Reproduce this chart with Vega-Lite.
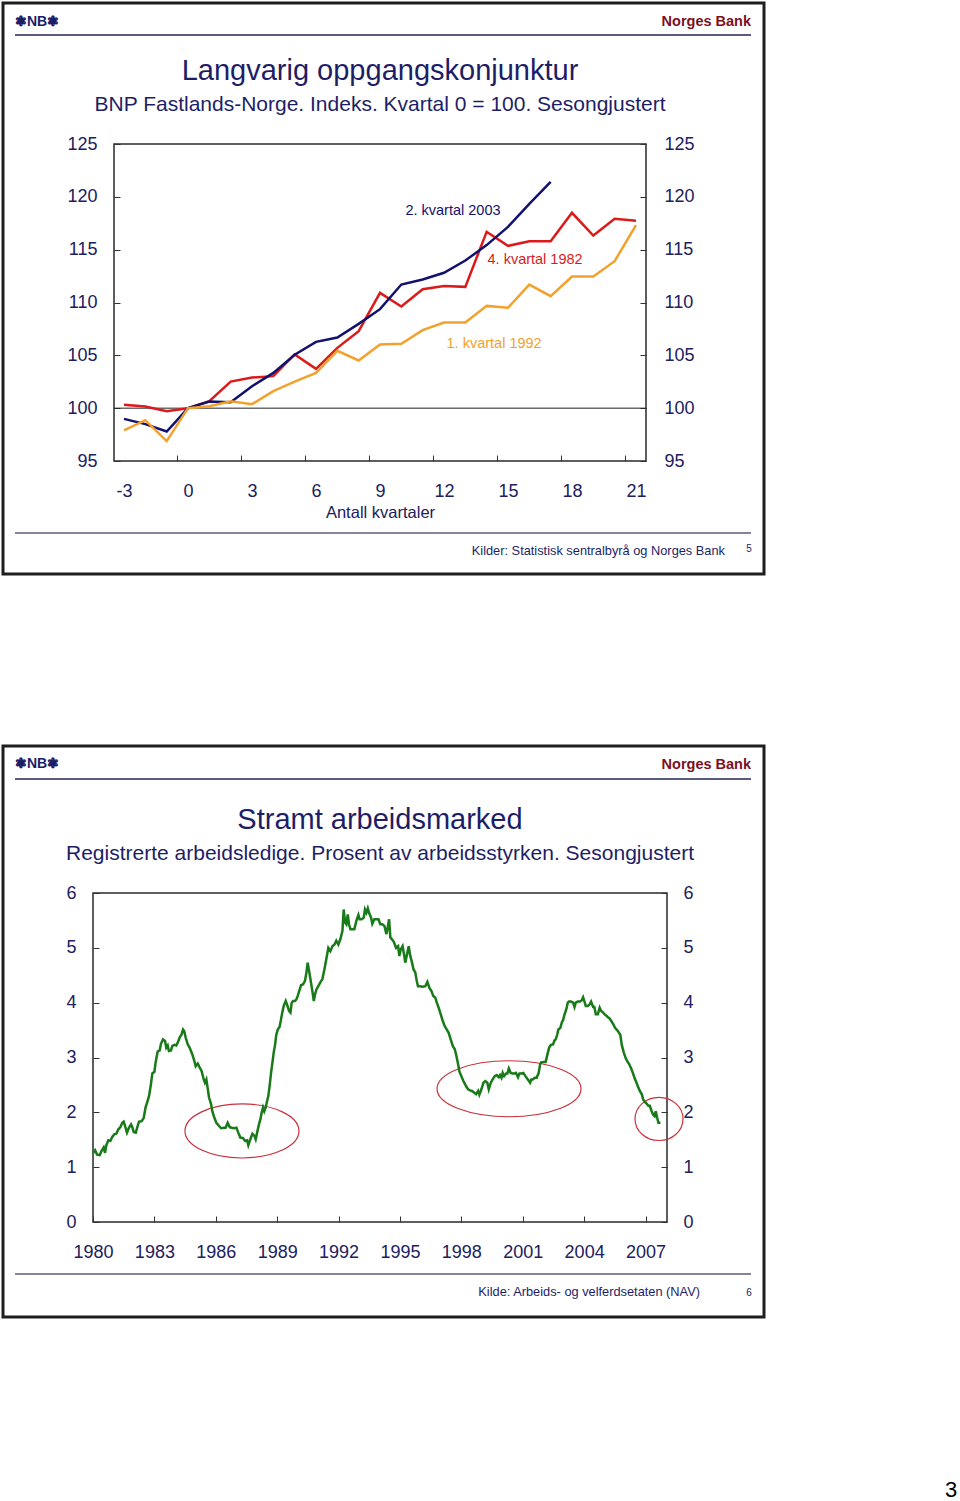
{
  "$schema": "https://vega.github.io/schema/vega-lite/v6.json",
  "background": "white",
  "autosize": {"type": "pad"},
  "padding": {"left": 0, "top": 0, "right": 0, "bottom": 0},
  "config": {
    "font": "Liberation Sans",
    "view": {"stroke": "#2a2a2a", "strokeWidth": 1.5},
    "axis": {"domain": false, "grid": false, "labelFont": "Liberation Sans", "labelFontSize": 18, "labelColor": "#20205e", "tickColor": "#333333", "tickSize": -6, "tickWidth": 1, "labelFlush": false, "labelOverlap": false, "titleFont": "Liberation Sans", "titleColor": "#20205e", "titleFontWeight": "normal"},
    "title": {"font": "Liberation Sans", "subtitleFont": "Liberation Sans", "fontSize": 29, "subtitleFontSize": 21, "fontWeight": "normal", "color": "#1e1e66", "subtitleColor": "#1e1e66", "anchor": "middle", "frame": "group", "subtitlePadding": 7.5}
  },
  "bounds": "flush",
  "center": true,
  "spacing": 432,
  "datasets": {
    "gdp": [
      {"series": "4. kvartal 1982", "q": -3, "v": 100.32}, {"series": "4. kvartal 1982", "q": -2, "v": 100.16}, {"series": "4. kvartal 1982", "q": -1, "v": 99.72}, {"series": "4. kvartal 1982", "q": 0, "v": 100.0}, {"series": "4. kvartal 1982", "q": 1, "v": 100.66}, {"series": "4. kvartal 1982", "q": 2, "v": 102.52}, {"series": "4. kvartal 1982", "q": 3, "v": 102.9}, {"series": "4. kvartal 1982", "q": 4, "v": 103.03}, {"series": "4. kvartal 1982", "q": 5, "v": 105.08}, {"series": "4. kvartal 1982", "q": 6, "v": 103.72}, {"series": "4. kvartal 1982", "q": 7, "v": 105.71}, {"series": "4. kvartal 1982", "q": 8, "v": 107.29}, {"series": "4. kvartal 1982", "q": 9, "v": 110.91}, {"series": "4. kvartal 1982", "q": 10, "v": 109.62}, {"series": "4. kvartal 1982", "q": 11, "v": 111.26}, {"series": "4. kvartal 1982", "q": 12, "v": 111.55}, {"series": "4. kvartal 1982", "q": 13, "v": 111.48}, {"series": "4. kvartal 1982", "q": 14, "v": 116.69}, {"series": "4. kvartal 1982", "q": 15, "v": 115.36}, {"series": "4. kvartal 1982", "q": 16, "v": 115.8}, {"series": "4. kvartal 1982", "q": 17, "v": 115.8}, {"series": "4. kvartal 1982", "q": 18, "v": 118.49}, {"series": "4. kvartal 1982", "q": 19, "v": 116.34}, {"series": "4. kvartal 1982", "q": 20, "v": 117.92}, {"series": "4. kvartal 1982", "q": 21, "v": 117.73},
      {"series": "2. kvartal 2003", "q": -3, "v": 98.99}, {"series": "2. kvartal 2003", "q": -2, "v": 98.49}, {"series": "2. kvartal 2003", "q": -1, "v": 97.79}, {"series": "2. kvartal 2003", "q": 0, "v": 100.0}, {"series": "2. kvartal 2003", "q": 1, "v": 100.63}, {"series": "2. kvartal 2003", "q": 2, "v": 100.57}, {"series": "2. kvartal 2003", "q": 3, "v": 102.08}, {"series": "2. kvartal 2003", "q": 4, "v": 103.34}, {"series": "2. kvartal 2003", "q": 5, "v": 105.05}, {"series": "2. kvartal 2003", "q": 6, "v": 106.28}, {"series": "2. kvartal 2003", "q": 7, "v": 106.69}, {"series": "2. kvartal 2003", "q": 8, "v": 107.98}, {"series": "2. kvartal 2003", "q": 9, "v": 109.37}, {"series": "2. kvartal 2003", "q": 10, "v": 111.7}, {"series": "2. kvartal 2003", "q": 11, "v": 112.18}, {"series": "2. kvartal 2003", "q": 12, "v": 112.81}, {"series": "2. kvartal 2003", "q": 13, "v": 113.97}, {"series": "2. kvartal 2003", "q": 14, "v": 115.43}, {"series": "2. kvartal 2003", "q": 15, "v": 117.16}, {"series": "2. kvartal 2003", "q": 16, "v": 119.34}, {"series": "2. kvartal 2003", "q": 17, "v": 121.42},
      {"series": "1. kvartal 1992", "q": -3, "v": 97.89}, {"series": "1. kvartal 1992", "q": -2, "v": 98.86}, {"series": "1. kvartal 1992", "q": -1, "v": 96.88}, {"series": "1. kvartal 1992", "q": 0, "v": 100.0}, {"series": "1. kvartal 1992", "q": 1, "v": 100.19}, {"series": "1. kvartal 1992", "q": 2, "v": 100.66}, {"series": "1. kvartal 1992", "q": 3, "v": 100.38}, {"series": "1. kvartal 1992", "q": 4, "v": 101.61}, {"series": "1. kvartal 1992", "q": 5, "v": 102.52}, {"series": "1. kvartal 1992", "q": 6, "v": 103.34}, {"series": "1. kvartal 1992", "q": 7, "v": 105.43}, {"series": "1. kvartal 1992", "q": 8, "v": 104.51}, {"series": "1. kvartal 1992", "q": 9, "v": 106.03}, {"series": "1. kvartal 1992", "q": 10, "v": 106.09}, {"series": "1. kvartal 1992", "q": 11, "v": 107.38}, {"series": "1. kvartal 1992", "q": 12, "v": 108.11}, {"series": "1. kvartal 1992", "q": 13, "v": 108.11}, {"series": "1. kvartal 1992", "q": 14, "v": 109.68}, {"series": "1. kvartal 1992", "q": 15, "v": 109.5}, {"series": "1. kvartal 1992", "q": 16, "v": 111.7}, {"series": "1. kvartal 1992", "q": 17, "v": 110.6}, {"series": "1. kvartal 1992", "q": 18, "v": 112.46}, {"series": "1. kvartal 1992", "q": 19, "v": 112.46}, {"series": "1. kvartal 1992", "q": 20, "v": 113.91}, {"series": "1. kvartal 1992", "q": 21, "v": 117.32}
    ],
    "gdpLabels": [
      {"series": "2. kvartal 2003", "q": 12.42, "v": 118.64},
      {"series": "4. kvartal 1982", "q": 16.27, "v": 114.0},
      {"series": "1. kvartal 1992", "q": 14.35, "v": 106.05}
    ],
    "unemp": [
      {"t": 1980.0, "v": 1.26}, {"t": 1980.1, "v": 1.31}, {"t": 1980.2, "v": 1.23}, {"t": 1980.33, "v": 1.22}, {"t": 1980.42, "v": 1.3}, {"t": 1980.52, "v": 1.36}, {"t": 1980.59, "v": 1.26}, {"t": 1980.65, "v": 1.4}, {"t": 1980.75, "v": 1.49}, {"t": 1980.85, "v": 1.48}, {"t": 1980.94, "v": 1.55}, {"t": 1981.04, "v": 1.6}, {"t": 1981.14, "v": 1.61}, {"t": 1981.24, "v": 1.69}, {"t": 1981.34, "v": 1.73}, {"t": 1981.43, "v": 1.81}, {"t": 1981.5, "v": 1.83}, {"t": 1981.6, "v": 1.71}, {"t": 1981.66, "v": 1.63}, {"t": 1981.76, "v": 1.72}, {"t": 1981.86, "v": 1.78}, {"t": 1981.92, "v": 1.73}, {"t": 1981.99, "v": 1.64}, {"t": 1982.09, "v": 1.63}, {"t": 1982.18, "v": 1.75}, {"t": 1982.25, "v": 1.83}, {"t": 1982.38, "v": 1.84}, {"t": 1982.48, "v": 1.9}, {"t": 1982.57, "v": 2.09}, {"t": 1982.67, "v": 2.21}, {"t": 1982.74, "v": 2.3}, {"t": 1982.83, "v": 2.51}, {"t": 1982.9, "v": 2.71}, {"t": 1983.0, "v": 2.74}, {"t": 1983.06, "v": 2.91}, {"t": 1983.16, "v": 3.11}, {"t": 1983.26, "v": 3.13}, {"t": 1983.32, "v": 3.25}, {"t": 1983.42, "v": 3.33}, {"t": 1983.52, "v": 3.3}, {"t": 1983.58, "v": 3.18}, {"t": 1983.65, "v": 3.22}, {"t": 1983.71, "v": 3.12}, {"t": 1983.81, "v": 3.13}, {"t": 1983.88, "v": 3.21}, {"t": 1983.98, "v": 3.23}, {"t": 1984.07, "v": 3.22}, {"t": 1984.14, "v": 3.27}, {"t": 1984.24, "v": 3.37}, {"t": 1984.33, "v": 3.42}, {"t": 1984.4, "v": 3.51}, {"t": 1984.46, "v": 3.48}, {"t": 1984.53, "v": 3.36}, {"t": 1984.63, "v": 3.24}, {"t": 1984.72, "v": 3.18}, {"t": 1984.85, "v": 3.06}, {"t": 1984.95, "v": 2.94}, {"t": 1985.02, "v": 2.84}, {"t": 1985.12, "v": 2.89}, {"t": 1985.21, "v": 2.82}, {"t": 1985.31, "v": 2.75}, {"t": 1985.41, "v": 2.6}, {"t": 1985.47, "v": 2.54}, {"t": 1985.54, "v": 2.6}, {"t": 1985.6, "v": 2.45}, {"t": 1985.67, "v": 2.27}, {"t": 1985.77, "v": 2.15}, {"t": 1985.83, "v": 2.02}, {"t": 1985.93, "v": 1.9}, {"t": 1986.03, "v": 1.81}, {"t": 1986.16, "v": 1.75}, {"t": 1986.26, "v": 1.71}, {"t": 1986.39, "v": 1.72}, {"t": 1986.48, "v": 1.72}, {"t": 1986.58, "v": 1.81}, {"t": 1986.68, "v": 1.73}, {"t": 1986.78, "v": 1.72}, {"t": 1986.91, "v": 1.71}, {"t": 1987.01, "v": 1.72}, {"t": 1987.1, "v": 1.63}, {"t": 1987.2, "v": 1.54},
      {"t": 1987.33, "v": 1.53}, {"t": 1987.43, "v": 1.48}, {"t": 1987.53, "v": 1.49}, {"t": 1987.59, "v": 1.4}, {"t": 1987.69, "v": 1.51}, {"t": 1987.79, "v": 1.61}, {"t": 1987.89, "v": 1.57}, {"t": 1987.95, "v": 1.51}, {"t": 1988.02, "v": 1.63}, {"t": 1988.11, "v": 1.78}, {"t": 1988.18, "v": 1.87}, {"t": 1988.24, "v": 1.99}, {"t": 1988.31, "v": 2.09}, {"t": 1988.37, "v": 2.02}, {"t": 1988.44, "v": 2.09}, {"t": 1988.51, "v": 2.21}, {"t": 1988.57, "v": 2.3}, {"t": 1988.64, "v": 2.51}, {"t": 1988.7, "v": 2.72}, {"t": 1988.77, "v": 2.91}, {"t": 1988.83, "v": 3.09}, {"t": 1988.9, "v": 3.24}, {"t": 1988.96, "v": 3.42}, {"t": 1989.03, "v": 3.51}, {"t": 1989.12, "v": 3.56}, {"t": 1989.19, "v": 3.7}, {"t": 1989.25, "v": 3.82}, {"t": 1989.32, "v": 3.94}, {"t": 1989.42, "v": 4.03}, {"t": 1989.48, "v": 3.97}, {"t": 1989.58, "v": 3.85}, {"t": 1989.65, "v": 3.82}, {"t": 1989.71, "v": 4.0}, {"t": 1989.78, "v": 4.03}, {"t": 1989.87, "v": 4.03}, {"t": 1989.94, "v": 4.06}, {"t": 1990.0, "v": 4.12}, {"t": 1990.1, "v": 4.24}, {"t": 1990.17, "v": 4.32}, {"t": 1990.26, "v": 4.33}, {"t": 1990.36, "v": 4.4}, {"t": 1990.43, "v": 4.55}, {"t": 1990.49, "v": 4.73}, {"t": 1990.56, "v": 4.58}, {"t": 1990.62, "v": 4.44}, {"t": 1990.72, "v": 4.21}, {"t": 1990.79, "v": 4.03}, {"t": 1990.85, "v": 4.15}, {"t": 1990.92, "v": 4.24}, {"t": 1991.01, "v": 4.3}, {"t": 1991.11, "v": 4.37}, {"t": 1991.21, "v": 4.43}, {"t": 1991.31, "v": 4.61}, {"t": 1991.4, "v": 4.79}, {"t": 1991.5, "v": 5.0}, {"t": 1991.6, "v": 4.94}, {"t": 1991.7, "v": 5.03}, {"t": 1991.8, "v": 5.06}, {"t": 1991.89, "v": 5.13}, {"t": 1991.99, "v": 5.06}, {"t": 1992.09, "v": 5.16}, {"t": 1992.19, "v": 5.31}, {"t": 1992.25, "v": 5.7}, {"t": 1992.32, "v": 5.46}, {"t": 1992.38, "v": 5.43}, {"t": 1992.45, "v": 5.61}, {"t": 1992.51, "v": 5.43}, {"t": 1992.58, "v": 5.34}, {"t": 1992.68, "v": 5.34}, {"t": 1992.77, "v": 5.34}, {"t": 1992.87, "v": 5.49}, {"t": 1992.97, "v": 5.6}, {"t": 1993.03, "v": 5.52}, {"t": 1993.13, "v": 5.52}, {"t": 1993.23, "v": 5.55}, {"t": 1993.29, "v": 5.7}, {"t": 1993.36, "v": 5.64}, {"t": 1993.43, "v": 5.72}, {"t": 1993.49, "v": 5.64}, {"t": 1993.59, "v": 5.55}, {"t": 1993.65, "v": 5.44}, {"t": 1993.75, "v": 5.52}, {"t": 1993.85, "v": 5.52}, {"t": 1993.95, "v": 5.52}, {"t": 1994.04, "v": 5.43}, {"t": 1994.14, "v": 5.43}, {"t": 1994.24, "v": 5.4}, {"t": 1994.34, "v": 5.25}, {"t": 1994.4, "v": 5.37}, {"t": 1994.47, "v": 5.52}, {"t": 1994.53, "v": 5.19}, {"t": 1994.6, "v": 5.16}, {"t": 1994.7, "v": 5.11},
      {"t": 1994.81, "v": 5.0}, {"t": 1994.91, "v": 5.03}, {"t": 1994.97, "v": 4.85}, {"t": 1995.04, "v": 4.97}, {"t": 1995.13, "v": 5.03}, {"t": 1995.2, "v": 4.88}, {"t": 1995.26, "v": 4.73}, {"t": 1995.36, "v": 4.91}, {"t": 1995.43, "v": 5.03}, {"t": 1995.49, "v": 4.88}, {"t": 1995.59, "v": 4.73}, {"t": 1995.66, "v": 4.61}, {"t": 1995.75, "v": 4.55}, {"t": 1995.82, "v": 4.4}, {"t": 1995.88, "v": 4.3}, {"t": 1995.98, "v": 4.3}, {"t": 1996.11, "v": 4.29}, {"t": 1996.24, "v": 4.3}, {"t": 1996.34, "v": 4.38}, {"t": 1996.44, "v": 4.27}, {"t": 1996.54, "v": 4.21}, {"t": 1996.63, "v": 4.12}, {"t": 1996.73, "v": 4.09}, {"t": 1996.8, "v": 4.0}, {"t": 1996.89, "v": 3.91}, {"t": 1996.99, "v": 3.79}, {"t": 1997.09, "v": 3.67}, {"t": 1997.19, "v": 3.57}, {"t": 1997.29, "v": 3.51}, {"t": 1997.38, "v": 3.45}, {"t": 1997.48, "v": 3.33}, {"t": 1997.58, "v": 3.21}, {"t": 1997.68, "v": 3.15}, {"t": 1997.74, "v": 3.06}, {"t": 1997.84, "v": 2.88}, {"t": 1997.9, "v": 2.75}, {"t": 1998.0, "v": 2.66}, {"t": 1998.1, "v": 2.57}, {"t": 1998.23, "v": 2.48}, {"t": 1998.33, "v": 2.42}, {"t": 1998.43, "v": 2.4}, {"t": 1998.52, "v": 2.39}, {"t": 1998.62, "v": 2.36}, {"t": 1998.72, "v": 2.33}, {"t": 1998.82, "v": 2.39}, {"t": 1998.88, "v": 2.32}, {"t": 1998.98, "v": 2.42}, {"t": 1999.08, "v": 2.54}, {"t": 1999.17, "v": 2.57}, {"t": 1999.27, "v": 2.54}, {"t": 1999.34, "v": 2.42}, {"t": 1999.44, "v": 2.54}, {"t": 1999.53, "v": 2.6}, {"t": 1999.63, "v": 2.66}, {"t": 1999.73, "v": 2.68}, {"t": 1999.83, "v": 2.64}, {"t": 1999.89, "v": 2.68}, {"t": 1999.96, "v": 2.63}, {"t": 2000.02, "v": 2.72}, {"t": 2000.09, "v": 2.66}, {"t": 2000.19, "v": 2.71}, {"t": 2000.25, "v": 2.71}, {"t": 2000.32, "v": 2.8}, {"t": 2000.41, "v": 2.72}, {"t": 2000.51, "v": 2.71}, {"t": 2000.61, "v": 2.71}, {"t": 2000.67, "v": 2.72}, {"t": 2000.77, "v": 2.64}, {"t": 2000.84, "v": 2.71}, {"t": 2000.93, "v": 2.71}, {"t": 2001.03, "v": 2.72}, {"t": 2001.13, "v": 2.66}, {"t": 2001.23, "v": 2.61}, {"t": 2001.29, "v": 2.58}, {"t": 2001.36, "v": 2.54}, {"t": 2001.42, "v": 2.6}, {"t": 2001.49, "v": 2.6}, {"t": 2001.59, "v": 2.63}, {"t": 2001.68, "v": 2.63}, {"t": 2001.78, "v": 2.72}, {"t": 2001.85, "v": 2.88},
      {"t": 2001.9, "v": 2.91}, {"t": 2002.03, "v": 2.92}, {"t": 2002.12, "v": 2.92}, {"t": 2002.19, "v": 3.03}, {"t": 2002.29, "v": 3.18}, {"t": 2002.38, "v": 3.23}, {"t": 2002.48, "v": 3.24}, {"t": 2002.55, "v": 3.31}, {"t": 2002.61, "v": 3.33}, {"t": 2002.68, "v": 3.41}, {"t": 2002.74, "v": 3.51}, {"t": 2002.84, "v": 3.54}, {"t": 2002.91, "v": 3.64}, {"t": 2002.97, "v": 3.68}, {"t": 2003.04, "v": 3.78}, {"t": 2003.13, "v": 3.88}, {"t": 2003.2, "v": 4.0}, {"t": 2003.26, "v": 4.02}, {"t": 2003.36, "v": 4.02}, {"t": 2003.46, "v": 4.0}, {"t": 2003.53, "v": 3.92}, {"t": 2003.59, "v": 4.0}, {"t": 2003.69, "v": 4.02}, {"t": 2003.79, "v": 4.02}, {"t": 2003.88, "v": 4.04}, {"t": 2003.95, "v": 4.1}, {"t": 2004.01, "v": 4.03}, {"t": 2004.08, "v": 3.94}, {"t": 2004.18, "v": 3.94}, {"t": 2004.27, "v": 3.97}, {"t": 2004.34, "v": 4.02}, {"t": 2004.44, "v": 3.92}, {"t": 2004.5, "v": 3.92}, {"t": 2004.57, "v": 3.79}, {"t": 2004.67, "v": 3.79}, {"t": 2004.76, "v": 3.91}, {"t": 2004.83, "v": 3.85}, {"t": 2004.93, "v": 3.82}, {"t": 2004.99, "v": 3.79}, {"t": 2005.09, "v": 3.76}, {"t": 2005.15, "v": 3.74}, {"t": 2005.25, "v": 3.71}, {"t": 2005.32, "v": 3.67}, {"t": 2005.42, "v": 3.61}, {"t": 2005.51, "v": 3.54}, {"t": 2005.61, "v": 3.5}, {"t": 2005.71, "v": 3.45}, {"t": 2005.77, "v": 3.41}, {"t": 2005.84, "v": 3.23}, {"t": 2005.94, "v": 3.09}, {"t": 2006.03, "v": 2.99}, {"t": 2006.1, "v": 2.94}, {"t": 2006.2, "v": 2.88}, {"t": 2006.3, "v": 2.8}, {"t": 2006.39, "v": 2.71}, {"t": 2006.46, "v": 2.63}, {"t": 2006.56, "v": 2.54}, {"t": 2006.62, "v": 2.48}, {"t": 2006.72, "v": 2.39}, {"t": 2006.82, "v": 2.33}, {"t": 2006.88, "v": 2.24}, {"t": 2006.95, "v": 2.2}, {"t": 2007.05, "v": 2.16}, {"t": 2007.14, "v": 2.12}, {"t": 2007.21, "v": 2.12}, {"t": 2007.3, "v": 2.02}, {"t": 2007.37, "v": 1.96}, {"t": 2007.44, "v": 1.93}, {"t": 2007.5, "v": 2.02}, {"t": 2007.57, "v": 1.9}, {"t": 2007.63, "v": 1.81}, {"t": 2007.73, "v": 1.81}
    ]
  },
  "vconcat": [
    {
      "width": 532,
      "height": 317,
      "title": {"text": "Langvarig oppgangskonjunktur", "subtitle": "BNP Fastlands-Norge. Indeks. Kvartal 0 = 100. Sesongjustert", "offset": -113},
      "resolve": {"axis": {"y": "independent"}},
      "layer": [
        {"data": {"values": [{}]}, "mark": {"type": "rect", "fill": "transparent", "stroke": "#1e1e1e", "strokeWidth": 3}, "encoding": {"x": {"value": -111}, "x2": {"value": 650}, "y": {"value": -141}, "y2": {"value": 430}}},
        {"data": {"values": [{}]}, "mark": {"type": "rule", "stroke": "#5b5b80", "strokeWidth": 2}, "encoding": {"x": {"value": -99}, "x2": {"value": 637}, "y": {"value": -109}}},
        {"data": {"values": [{}]}, "mark": {"type": "text", "text": "❃NB❃", "align": "left", "baseline": "middle", "fontSize": 14, "fontWeight": "bold", "color": "#1e1e66"}, "encoding": {"x": {"value": -99}, "y": {"value": -122}}},
        {"data": {"values": [{}]}, "mark": {"type": "text", "text": "Norges Bank", "align": "right", "baseline": "middle", "fontSize": 14.5, "fontWeight": "bold", "color": "#7b1022"}, "encoding": {"x": {"value": 637}, "y": {"value": -122}}},
        {"data": {"values": [{}]}, "mark": {"type": "rule", "stroke": "#5b5b80", "strokeWidth": 1.5}, "encoding": {"x": {"value": -99}, "x2": {"value": 637}, "y": {"value": 389}}},
        {"data": {"values": [{}]}, "mark": {"type": "text", "text": "Kilder: Statistisk sentralbyrå og Norges Bank", "align": "right", "baseline": "middle", "fontSize": 12.8, "color": "#1e1e66"}, "encoding": {"x": {"value": 611}, "y": {"value": 407}}},
        {"data": {"values": [{}]}, "mark": {"type": "text", "text": "5", "align": "center", "baseline": "middle", "fontSize": 10, "color": "#1e1e66"}, "encoding": {"x": {"value": 635}, "y": {"value": 405}}},
        {
          "data": {"values": [{}]},
          "mark": {"type": "rule", "stroke": "#222222", "strokeWidth": 1},
          "encoding": {"y": {"datum": 100, "type": "quantitative", "axis": {"orient": "right", "values": [95, 100, 105, 110, 115, 120, 125], "labelPadding": 24, "title": null}}}
        },
        {
          "data": {"name": "gdp"},
          "mark": {"type": "line", "strokeWidth": 2.5},
          "encoding": {
            "x": {"field": "q", "type": "quantitative", "scale": {"domain": [-3.47, 21.47], "nice": false, "zero": false},
              "axis": {"values": [-3, -0.5, 0, 2.5, 3, 5.5, 6, 8.5, 9, 11.5, 12, 14.5, 15, 17.5, 18, 20.5, 21], "labelExpr": "datum.value % 3 === 0 ? '' + datum.value : ''", "tickOpacity": {"condition": {"test": "datum.value % 3 === 0", "value": 0}, "value": 1}, "labelPadding": 27, "title": "Antall kvartaler", "titleFontSize": 16.5, "titlePadding": 4}},
            "y": {"field": "v", "type": "quantitative", "scale": {"domain": [95, 125], "nice": false, "zero": false}, "axis": {"orient": "left", "values": [95, 100, 105, 110, 115, 120, 125], "labelPadding": 23, "title": null}},
            "color": {"field": "series", "type": "nominal", "scale": {"domain": ["2. kvartal 2003", "4. kvartal 1982", "1. kvartal 1992"], "range": ["#12126e", "#dd1a1a", "#f2a22c"]}, "legend": null}
          }
        },
        {
          "data": {"name": "gdpLabels"},
          "mark": {"type": "text", "fontSize": 14.5, "align": "center", "baseline": "middle"},
          "encoding": {
            "x": {"field": "q", "type": "quantitative",
              "axis": {"values": [-3, -0.5, 0, 2.5, 3, 5.5, 6, 8.5, 9, 11.5, 12, 14.5, 15, 17.5, 18, 20.5, 21], "labelExpr": "datum.value % 3 === 0 ? '' + datum.value : ''", "tickOpacity": {"condition": {"test": "datum.value % 3 === 0", "value": 0}, "value": 1}, "labelPadding": 27, "title": "Antall kvartaler", "titleFontSize": 16.5, "titlePadding": 4}},
            "y": {"field": "v", "type": "quantitative", "axis": null},
            "text": {"field": "series"},
            "color": {"field": "series", "type": "nominal", "legend": null}
          }
        }
      ]
    },
    {
      "width": 574,
      "height": 329,
      "title": {"text": "Stramt arbeidsmarked", "subtitle": "Registrerte arbeidsledige. Prosent av arbeidsstyrken. Sesongjustert", "offset": -119},
      "resolve": {"axis": {"y": "independent"}},
      "layer": [
        {"data": {"values": [{}]}, "mark": {"type": "rect", "fill": "transparent", "stroke": "#1e1e1e", "strokeWidth": 3}, "encoding": {"x": {"value": -90}, "x2": {"value": 671}, "y": {"value": -147}, "y2": {"value": 424}}},
        {"data": {"values": [{}]}, "mark": {"type": "rule", "stroke": "#5b5b80", "strokeWidth": 2}, "encoding": {"x": {"value": -78}, "x2": {"value": 658}, "y": {"value": -114}}},
        {"data": {"values": [{}]}, "mark": {"type": "text", "text": "❃NB❃", "align": "left", "baseline": "middle", "fontSize": 14, "fontWeight": "bold", "color": "#1e1e66"}, "encoding": {"x": {"value": -78}, "y": {"value": -129}}},
        {"data": {"values": [{}]}, "mark": {"type": "text", "text": "Norges Bank", "align": "right", "baseline": "middle", "fontSize": 14.5, "fontWeight": "bold", "color": "#7b1022"}, "encoding": {"x": {"value": 658}, "y": {"value": -128}}},
        {"data": {"values": [{}]}, "mark": {"type": "rule", "stroke": "#5b5b80", "strokeWidth": 1.5}, "encoding": {"x": {"value": -78}, "x2": {"value": 658}, "y": {"value": 381}}},
        {"data": {"values": [{}]}, "mark": {"type": "text", "text": "Kilde: Arbeids- og velferdsetaten (NAV)", "align": "right", "baseline": "middle", "fontSize": 12.8, "color": "#1e1e66"}, "encoding": {"x": {"value": 607}, "y": {"value": 399}}},
        {"data": {"values": [{}]}, "mark": {"type": "text", "text": "6", "align": "center", "baseline": "middle", "fontSize": 10, "color": "#1e1e66"}, "encoding": {"x": {"value": 656}, "y": {"value": 400}}},
        {"data": {"values": [{}]}, "mark": {"type": "text", "text": "3", "align": "center", "baseline": "middle", "fontSize": 22, "color": "#000000"}, "encoding": {"x": {"value": 858}, "y": {"value": 597}}},
        {
          "data": {"values": [{"t": 1987.28, "v": 1.66}]},
          "mark": {"type": "point", "filled": false, "stroke": "#c8323c", "strokeWidth": 1.2, "opacity": 1, "size": 12996, "shape": "M1,0C1,0.2618,0.5523,0.474,0,0.474C-0.5523,0.474,-1,0.2618,-1,0C-1,-0.2618,-0.5523,-0.474,0,-0.474C0.5523,-0.474,1,-0.2618,1,0Z"},
          "encoding": {
            "x": {"field": "t", "type": "quantitative", "axis": {"values": [1980, 1983, 1986, 1989, 1992, 1995, 1998, 2001, 2004, 2007], "format": "d", "labelPadding": 27, "title": null}},
            "y": {"field": "v", "type": "quantitative", "axis": {"orient": "right", "values": [0, 1, 2, 3, 4, 5, 6], "labelPadding": 22, "title": null}}
          }
        },
        {
          "data": {"values": [{"t": 2000.33, "v": 2.43}]},
          "mark": {"type": "point", "filled": false, "stroke": "#c8323c", "strokeWidth": 1.2, "opacity": 1, "size": 20736, "shape": "M1,0C1,0.2148,0.5523,0.389,0,0.389C-0.5523,0.389,-1,0.2148,-1,0C-1,-0.2148,-0.5523,-0.389,0,-0.389C0.5523,-0.389,1,-0.2148,1,0Z"},
          "encoding": {
            "x": {"field": "t", "type": "quantitative", "axis": {"values": [1980, 1983, 1986, 1989, 1992, 1995, 1998, 2001, 2004, 2007], "format": "d", "labelPadding": 27, "title": null}},
            "y": {"field": "v", "type": "quantitative", "axis": null}
          }
        },
        {
          "data": {"values": [{"t": 2007.66, "v": 1.88}]},
          "mark": {"type": "point", "filled": false, "stroke": "#c8323c", "strokeWidth": 1.2, "opacity": 1, "size": 2304, "shape": "M1,0C1,0.497,0.5523,0.9,0,0.9C-0.5523,0.9,-1,0.497,-1,0C-1,-0.497,-0.5523,-0.9,0,-0.9C0.5523,-0.9,1,-0.497,1,0Z"},
          "encoding": {
            "x": {"field": "t", "type": "quantitative", "axis": {"values": [1980, 1983, 1986, 1989, 1992, 1995, 1998, 2001, 2004, 2007], "format": "d", "labelPadding": 27, "title": null}},
            "y": {"field": "v", "type": "quantitative", "axis": null}
          }
        },
        {
          "data": {"name": "unemp"},
          "mark": {"type": "line", "strokeWidth": 2.5, "color": "#187a18"},
          "encoding": {
            "x": {"field": "t", "type": "quantitative", "scale": {"domain": [1980, 2008.05], "nice": false, "zero": false},
              "axis": {"values": [1980, 1983, 1986, 1989, 1992, 1995, 1998, 2001, 2004, 2007], "format": "d", "labelPadding": 27, "title": null}},
            "y": {"field": "v", "type": "quantitative", "scale": {"domain": [0, 6], "nice": false}, "axis": {"orient": "left", "values": [0, 1, 2, 3, 4, 5, 6], "labelPadding": 23, "title": null}}
          }
        }
      ]
    }
  ]
}
